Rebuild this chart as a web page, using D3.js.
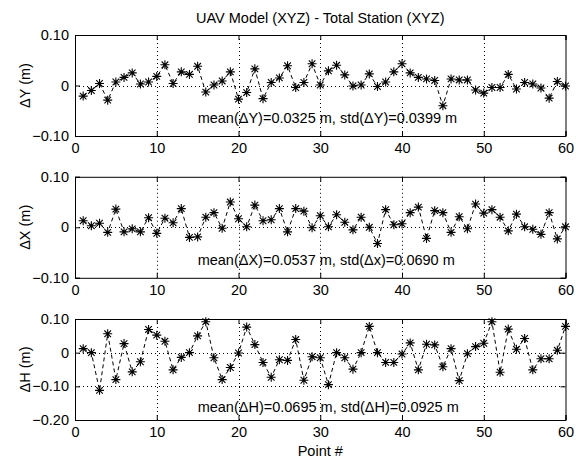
<!DOCTYPE html>
<html>
<head>
<meta charset="utf-8">
<script src="https://cdn.jsdelivr.net/npm/d3@7/dist/d3.min.js"></script>
<style>
  html, body { margin: 0; padding: 0; background: #fff; }
  svg { display: block; }
  text { font-family: "Liberation Sans", Arial, Helvetica, sans-serif; fill: #000; }
</style>
</head>
<body>
<svg id="chart" width="576" height="461"></svg>
<script>
// ---------- data ----------
const title = "UAV Model (XYZ) - Total Station (XYZ)";
const xLabel = "Point #";
const points = d3.range(1, 61);
const dY = [-0.021, -0.010, 0.004, -0.029, 0.007, 0.016, 0.025, 0.003, 0.007, 0.018,
            0.041, 0.004, 0.027, 0.022, 0.038, -0.013, 0.001, 0.009, 0.027, -0.027,
            -0.014, 0.033, -0.026, 0.006, 0.015, 0.039, -0.004, 0.006, 0.043, 0.001,
            0.029, 0.040, 0.021, -0.001, 0.001, 0.023, -0.002, 0.007, 0.027, 0.043,
            0.025, 0.016, 0.013, 0.010, -0.040, 0.013, 0.011, 0.011, -0.009, -0.015,
            -0.004, -0.004, 0.022, -0.007, 0.006, 0.003, -0.005, -0.025, 0.008, -0.001];
const dX = [0.013, 0.003, 0.008, -0.010, 0.036, -0.009, -0.003, -0.009, 0.019, -0.012,
            0.018, 0.009, 0.037, -0.020, -0.019, 0.020, 0.029, -0.002, 0.050, 0.017,
            0.001, 0.044, 0.013, 0.015, 0.037, -0.009, 0.037, 0.032, -0.001, 0.023,
            0.001, 0.025, 0.010, -0.005, 0.020, 0.000, -0.032, 0.035, 0.005, 0.007,
            0.029, 0.040, -0.022, 0.033, 0.029, -0.010, 0.021, -0.003, 0.046, 0.028,
            0.035, 0.020, -0.007, 0.026, 0.001, -0.004, -0.014, 0.029, -0.023, 0.001];
const dH = [0.012, 0.000, -0.112, 0.056, -0.080, 0.027, -0.057, -0.027, 0.069, 0.052,
            0.034, -0.051, -0.014, 0.000, 0.050, 0.092, -0.015, -0.080, -0.044, -0.001,
            0.076, 0.024, -0.029, -0.073, -0.021, -0.023, 0.039, -0.082, -0.012, -0.015,
            -0.095, 0.000, -0.015, -0.049, 0.000, 0.078, 0.000, -0.029, -0.029, -0.004,
            0.029, -0.051, 0.025, 0.023, -0.042, 0.012, -0.083, -0.003, 0.018, 0.028,
            0.092, -0.058, 0.070, 0.010, 0.042, -0.051, -0.018, -0.018, 0.007, 0.078];
const xTicks = [0, 10, 20, 30, 40, 50, 60];
const yTicksY = [-0.10, 0, 0.10];
const yTicksX = [-0.10, 0, 0.10];
const yTicksH = [-0.20, -0.10, 0, 0.10];
const yLabels = ["\u0394Y (m)", "\u0394X (m)", "\u0394H (m)"];
const notes = ["mean(\u0394Y)=0.0325 m, std(\u0394Y)=0.0399 m",
               "mean(\u0394X)=0.0537 m, std(\u0394x)=0.0690 m",
               "mean(\u0394H)=0.0695 m, std(\u0394H)=0.0925 m"];
const noteX = [15, 15, 15];
const noteY = [-0.065, -0.065, -0.16];

// ---------- layout ----------
const svg = d3.select("#chart");
const left = 75, right = 565.5;
const panelH = 101;
const tops = [35, 176.8, 319];
const fontSize = 14.5;

const panels = [
  { values: dY, ticks: yTicksY, domain: [-0.10, 0.10] },
  { values: dX, ticks: yTicksX, domain: [-0.10, 0.10] },
  { values: dH, ticks: yTicksH, domain: [-0.20, 0.10] }
];

const fmt = v => (v === 0 ? "0" : d3.format(".2f")(v));

svg.append("text")
  .attr("x", (left + right) / 2).attr("y", 18)
  .attr("text-anchor", "middle").attr("dominant-baseline", "central")
  .style("font-size", fontSize + "px")
  .text(title);

panels.forEach((p, k) => {
  const top = tops[k], bottom = top + panelH;
  const x = d3.scaleLinear().domain([0, 60]).range([left, right]);
  const y = d3.scaleLinear().domain(p.domain).range([bottom, top]);
  const g = svg.append("g");

  // grid (dotted)
  const grid = g.append("g").attr("stroke", "#000").attr("stroke-width", 1)
    .attr("stroke-dasharray", "1,3").attr("fill", "none");
  xTicks.filter(t => t > 0 && t < 60).forEach(t => {
    grid.append("line").attr("x1", Math.round(x(t)) + 0.5).attr("x2", Math.round(x(t)) + 0.5)
      .attr("y1", top).attr("y2", bottom);
  });
  p.ticks.filter(t => t > p.domain[0] && t < p.domain[1]).forEach(t => {
    grid.append("line").attr("y1", Math.round(y(t)) + 0.5).attr("y2", Math.round(y(t)) + 0.5)
      .attr("x1", left).attr("x2", right);
  });

  // axes with inward ticks
  const axB = d3.axisBottom(x).tickValues(xTicks).tickSize(-5).tickPadding(7).tickFormat(d3.format("d"));
  const axT = d3.axisTop(x).tickValues(xTicks).tickSize(-5).tickFormat("");
  const axL = d3.axisLeft(y).tickValues(p.ticks).tickSize(-5).tickPadding(6).tickFormat(fmt);
  const axR = d3.axisRight(y).tickValues(p.ticks).tickSize(-5).tickFormat("");
  [[axB, `translate(0,${bottom})`], [axT, `translate(0,${top})`],
   [axL, `translate(${left},0)`], [axR, `translate(${right},0)`]].forEach(([ax, tr]) => {
    const a = g.append("g").attr("transform", tr).call(ax);
    a.selectAll("path.domain").attr("stroke", "#000").attr("stroke-width", 1);
    a.selectAll(".tick line").attr("stroke", "#000");
    a.selectAll("text").style("font-size", fontSize + "px")
      .style("font-family", "'Liberation Sans', Arial, Helvetica, sans-serif").attr("fill", "#000");
  });

  // y label
  g.append("text")
    .attr("transform", `translate(25,${(top + bottom) / 2}) rotate(-90)`)
    .attr("text-anchor", "middle").attr("dominant-baseline", "central")
    .style("font-size", fontSize + "px")
    .text(yLabels[k]);

  // dashed line
  const line = d3.line().x((d, i) => x(points[i])).y(d => y(d));
  g.append("path").datum(p.values)
    .attr("d", line).attr("fill", "none").attr("stroke", "#000")
    .attr("stroke-width", 1).attr("stroke-dasharray", "4,3");

  // asterisk markers
  const r1 = 4.5, r2 = 3.3;
  const star = `M${-r1},0H${r1}M0,${-r1}V${r1}M${-r2},${-r2}L${r2},${r2}M${-r2},${r2}L${r2},${-r2}`;
  g.append("g").selectAll("path").data(p.values).join("path")
    .attr("transform", (d, i) => `translate(${x(points[i])},${y(d)})`)
    .attr("d", star).attr("fill", "none").attr("stroke", "#000").attr("stroke-width", 1.1);

  // annotation
  g.append("text")
    .attr("x", x(noteX[k])).attr("y", y(noteY[k]))
    .attr("dominant-baseline", "central")
    .style("font-size", fontSize + "px")
    .text(notes[k]);
});

svg.append("text")
  .attr("x", (left + right) / 2).attr("y", 451)
  .attr("text-anchor", "middle").attr("dominant-baseline", "central")
  .style("font-size", fontSize + "px")
  .text(xLabel);
</script>
</body>
</html>
